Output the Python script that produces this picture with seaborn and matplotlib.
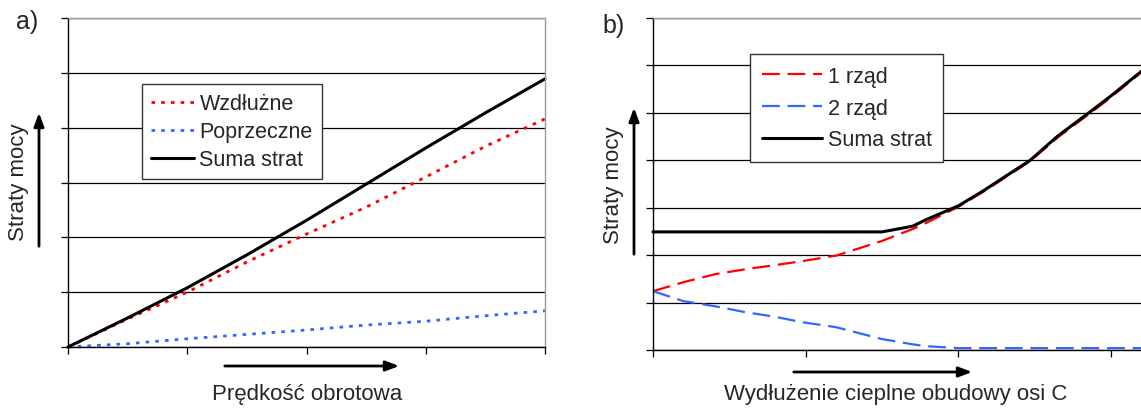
import numpy as np
import pandas as pd
import matplotlib
matplotlib.use("Agg")
import matplotlib.pyplot as plt
import seaborn as sns

# ---- data (a) ----
speed = [0, 0.5, 1, 1.5, 2, 2.5, 3, 3.5, 4]
wzdluzne = [0, 0.51, 1.0, 1.55, 2.06, 2.55, 3.1, 3.66, 4.16]
poprzeczne = [0, 0.06, 0.15, 0.23, 0.31, 0.40, 0.47, 0.57, 0.66]
suma_a = [0, 0.53, 1.08, 1.68, 2.31, 2.97, 3.63, 4.27, 4.89]

# ---- data (b) ----
elong = [0, 0.2, 0.41, 0.6, 0.8, 0.97, 1.18, 1.2, 1.5, 1.70, 1.79, 2.0, 2.16, 2.47, 2.65, 2.87, 3.0, 3.2]
rzad1 = [1.24, 1.43, 1.60, 1.70, 1.79, 1.87, 1.98, 1.99, 2.30, 2.55, 2.68, 3.02, 3.33, 3.98, 4.48, 5.01, 5.33, 5.86]
rzad2 = [1.24, 1.03, 0.92, 0.80, 0.70, 0.59, 0.49, 0.48, 0.23, 0.12, 0.08, 0.04, 0.04, 0.04, 0.04, 0.04, 0.04, 0.04]
suma_b = [2.49, 2.49, 2.49, 2.49, 2.49, 2.49, 2.49, 2.49, 2.49, 2.61, 2.75, 3.04, 3.35, 4.0, 4.51, 5.04, 5.36, 5.88]

labels_a = ["Wzdłużne", "Poprzeczne", "Suma strat"]
labels_b = ["1 rząd", "2 rząd", "Suma strat"]

sns.set_theme(style="white")
plt.rcParams['font.family'] = ['Liberation Sans', 'DejaVu Sans']

W, H = 1141, 410
fig = plt.figure(figsize=(W / 100, H / 100), dpi=100)

RED = "#ff0000"
BLUE = "#3366ff"

def px2fx(x):
    return x / W

def px2fy(y):
    return 1 - y / H

axA = fig.add_axes([px2fx(68), px2fy(348), (545 - 68) / W, (348 - 19) / H])
axB = fig.add_axes([px2fx(653), px2fy(351), (1141 - 653) / W, (351 - 19) / H])

# panel a
sns.lineplot(x=speed, y=wzdluzne, ax=axA, color=RED, lw=2.0, label=labels_a[0])
sns.lineplot(x=speed, y=poprzeczne, ax=axA, color=BLUE, lw=2.0, label=labels_a[1])
sns.lineplot(x=speed, y=suma_a, ax=axA, color="black", lw=2.2, label=labels_a[2])
axA.lines[0].set_dashes([1.3, 2.2])
axA.lines[1].set_dashes([1.3, 2.2])
axA.set_xlim(0, 4)
axA.set_ylim(0, 6)
axA.set_xticks([0, 1, 2, 3, 4])
axA.set_yticks([0, 1, 2, 3, 4, 5, 6])

# panel b
sns.lineplot(x=elong, y=rzad1, ax=axB, color=RED, lw=1.6, label=labels_b[0])
sns.lineplot(x=elong, y=rzad2, ax=axB, color=BLUE, lw=1.6, label=labels_b[1])
sns.lineplot(x=elong, y=suma_b, ax=axB, color="black", lw=2.2, label=labels_b[2])
axB.lines[0].set_dashes([8, 3.5])
axB.lines[1].set_dashes([8, 3.5])
axB.set_xlim(0, (1141 - 653) / 152.7)
axB.set_ylim(0, 7)
axB.set_xticks([0, 1, 2, 3])
axB.set_yticks([0, 1, 2, 3, 4, 5, 6, 7])

for ax in (axA, axB):
    ax.set_xlabel("")
    ax.set_ylabel("")
    ax.set_xticklabels([])
    ax.set_yticklabels([])
    ax.tick_params(axis="both", which="both", direction="out", length=5, width=0.9,
                   color="black", bottom=True, left=True, top=False, right=False)
    ax.yaxis.grid(True, color="black", lw=0.9)
    ax.xaxis.grid(False)
    ax.set_axisbelow(True)
    ax.spines["left"].set_color("black")
    ax.spines["bottom"].set_color("black")
    ax.spines["left"].set_linewidth(1.0)
    ax.spines["bottom"].set_linewidth(1.0)
    ax.spines["top"].set_color("#999999")
    ax.spines["top"].set_linewidth(1.0)
    for ln in ax.lines:
        ln.set_clip_on(False)

axA.spines["right"].set_color("#999999")
axA.spines["right"].set_linewidth(1.0)
axB.spines["right"].set_visible(False)

legA = axA.legend(loc="upper left", bbox_to_anchor=((142 - 68) / 477, (348 - 85) / 329),
                  borderaxespad=0, frameon=True, fancybox=False, framealpha=1,
                  edgecolor="#333333", fontsize=15.5, handlelength=2.0, handletextpad=0.25,
                  labelspacing=0.33, borderpad=0.42)
legA.get_frame().set_linewidth(1.0)
legB = axB.legend(loc="upper left", bbox_to_anchor=((750 - 653) / 488, (351 - 55) / 332),
                  borderaxespad=0, frameon=True, fancybox=False, framealpha=1,
                  edgecolor="#333333", fontsize=15.5, handlelength=2.8, handletextpad=0.25,
                  labelspacing=0.5, borderpad=0.55)
legB.get_frame().set_linewidth(1.0)

# labels and arrows
def farrow(x0, y0, x1, y1):
    fig.add_artist(matplotlib.patches.FancyArrowPatch(
        (px2fx(x0), px2fy(y0)), (px2fx(x1), px2fy(y1)), transform=fig.transFigure,
        arrowstyle="-|>,head_length=8,head_width=3", mutation_scale=1, lw=2.0, color="black"))

fig.text(px2fx(307), px2fy(395), "Prędkość obrotowa", ha="center", va="center", fontsize=16)
fig.text(px2fx(896), px2fy(395), "Wydłużenie cieplne obudowy osi C", ha="center", va="center", fontsize=16)
fig.text(px2fx(19), px2fy(182), "Straty mocy", ha="center", va="center", rotation=90, fontsize=16)
fig.text(px2fx(614), px2fy(185), "Straty mocy", ha="center", va="center", rotation=90, fontsize=16)
fig.text(px2fx(16), px2fy(22), "a)", ha="left", va="center", fontsize=18)
fig.text(px2fx(602), px2fy(26), "b)", ha="left", va="center", fontsize=18)

farrow(222, 367, 402, 367)
farrow(791, 373, 975, 373)
farrow(39, 250, 39, 111)
farrow(634, 258, 634, 106)

fig.savefig("out.png", dpi=100)
